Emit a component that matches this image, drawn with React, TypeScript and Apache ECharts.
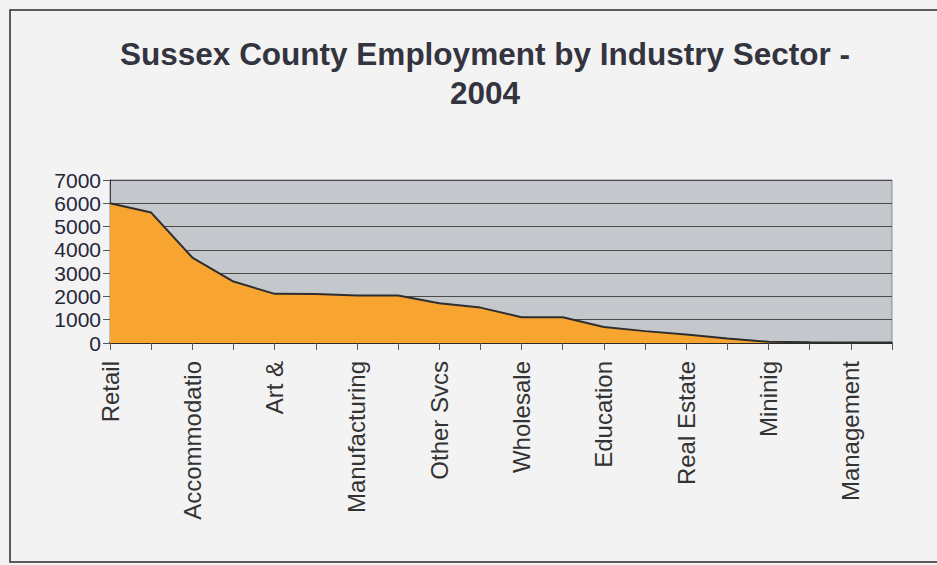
import React, { useEffect, useRef } from "react";
import * as echarts from "echarts";

const titleLines = ["Sussex County Employment by Industry Sector -", "2004"];
const categories = [
  "Retail", "Health Care", "Accommodatio", "Construction", "Art &",
  "Admin", "Manufacturing", "Professional", "Other Svcs", "Finance",
  "Wholesale", "Transportation", "Education", "Information", "Real Estate",
  "Agriculture", "Mininig", "Utilities", "Management", "Unclassified",
];
const employment = [
  6000, 5600, 3670, 2640, 2110,
  2100, 2040, 2040, 1710, 1520,
  1110, 1110, 690, 510, 360,
  190, 50, 30, 20, 20,
];
const yMin = 0;
const yMax = 7000;
const yStep = 1000;

export default function App() {
  const ref = useRef<HTMLDivElement>(null);
  useEffect(() => {
    if (!ref.current) return;
    const chart = echarts.init(ref.current, null, { renderer: "svg" });
    chart.setOption({
      animation: false,
      backgroundColor: "#f3f3f3",
      title: {
        text: titleLines.join("\n"),
        left: 480,
        top: 29,
        textAlign: "center",
        textStyle: {
          fontFamily: "Liberation Sans, Arial, sans-serif",
          fontWeight: "bold",
          fontSize: 31.5,
          lineHeight: 39,
          color: "#34343f",
        },
      },
      graphic: [
        {
          type: "rect",
          shape: { x: 10, y: 10, width: 940, height: 552 },
          style: { fill: "none", stroke: "#2a2a2a", lineWidth: 1.5 },
          silent: true,
          z: -1,
        },
      ],
      grid: {
        left: 110,
        right: 45,
        top: 180,
        height: 163,
        show: true,
        backgroundColor: "#c4c7cb",
        borderColor: "#8a8d92",
        borderWidth: 1,
      },
      xAxis: {
        type: "category",
        data: categories,
        boundaryGap: false,
        axisLine: { lineStyle: { color: "#2a2a2a", width: 2 } },
        axisTick: {
          show: true,
          length: 7,
          interval: 0,
          lineStyle: { color: "#555", width: 1 },
        },
        axisLabel: {
          interval: 1,
          rotate: 90,
          margin: 18,
          fontFamily: "Liberation Sans, Arial, sans-serif",
          fontSize: 24,
          color: "#333",
        },
        splitLine: { show: false },
      },
      yAxis: {
        type: "value",
        min: yMin,
        max: yMax,
        interval: yStep,
        axisLine: { show: true, lineStyle: { color: "#3a3a3a", width: 1 } },
        axisTick: { show: true, length: 7, lineStyle: { color: "#555" } },
        axisLabel: {
          margin: 9,
          formatter: (v: number) => String(v),
          fontFamily: "Liberation Sans, Arial, sans-serif",
          fontSize: 21,
          color: "#26263a",
        },
        splitLine: { show: true, lineStyle: { color: "#4a4a4a", width: 1 } },
      },
      series: [
        {
          type: "line",
          data: employment,
          symbol: "none",
          lineStyle: { color: "#2e2e2e", width: 2 },
          areaStyle: { color: "#f7a530", opacity: 1 },
        },
      ],
    });
    return () => chart.dispose();
  }, []);
  return (
    <div
      ref={ref}
      style={{ position: "fixed", left: 0, top: 0, width: 937, height: 565 }}
    />
  );
}
